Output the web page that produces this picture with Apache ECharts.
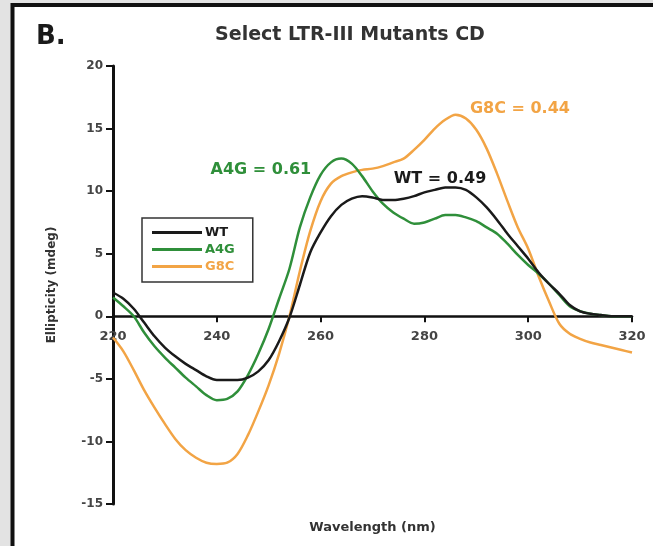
<!DOCTYPE html>
<html>
<head>
<meta charset="utf-8">
<title>Select LTR-III Mutants CD</title>
<script src="https://cdn.jsdelivr.net/npm/echarts@6/dist/echarts.min.js"></script>
<style>
  html, body { margin: 0; padding: 0; background: #e3e3e3; }
  #chart { width: 653px; height: 546px; }
</style>
</head>
<body>
<div id="chart"></div>
<script>
// wavelength (nm)
var wavelength = [220, 222, 224, 226, 228, 230, 232, 234, 236, 238,
                  240, 242, 244, 246, 248, 250, 252, 254, 256, 258,
                  260, 262, 264, 266, 268, 270, 272, 274, 276, 278,
                  280, 282, 284, 286, 288, 290, 292, 294, 296, 298,
                  300, 302, 304, 306, 308, 310, 312, 314, 316, 318, 320];

// ellipticity (mdeg)
var wt = [1.9, 1.4, 0.6, -0.5, -1.6, -2.5, -3.2, -3.8, -4.3, -4.8,
          -5.1, -5.1, -5.1, -4.9, -4.4, -3.5, -2.0, -0.1, 2.5, 5.1,
          6.7, 8.0, 8.9, 9.4, 9.6, 9.5, 9.3, 9.3, 9.4, 9.6,
          9.9, 10.1, 10.3, 10.3, 10.1, 9.5, 8.7, 7.7, 6.6, 5.6,
          4.6, 3.5, 2.6, 1.8, 0.9, 0.4, 0.2, 0.1, 0.0, 0.0, 0.0];

var a4g = [1.5, 0.8, 0.0, -1.3, -2.4, -3.3, -4.1, -4.9, -5.6, -6.3,
           -6.7, -6.6, -6.0, -4.7, -3.0, -1.0, 1.4, 3.8, 7.1, 9.5,
           11.3, 12.3, 12.6, 12.2, 11.2, 10.0, 9.0, 8.3, 7.8, 7.4,
           7.5, 7.8, 8.1, 8.1, 7.9, 7.6, 7.1, 6.6, 5.8, 4.9,
           4.1, 3.4, 2.6, 1.7, 0.8, 0.4, 0.2, 0.1, 0.0, 0.0, 0.0];

var g8c = [-1.7, -2.8, -4.3, -5.9, -7.3, -8.6, -9.8, -10.7, -11.3, -11.7,
           -11.8, -11.7, -11.0, -9.5, -7.6, -5.5, -3.0, 0.0, 3.6, 6.8,
           9.2, 10.6, 11.2, 11.5, 11.7, 11.8, 12.0, 12.3, 12.6, 13.3,
           14.1, 15.0, 15.7, 16.1, 15.8, 14.9, 13.4, 11.4, 9.2, 7.1,
           5.4, 3.2, 1.2, -0.6, -1.4, -1.8, -2.1, -2.3, -2.5, -2.7, -2.9];

var seriesNames = ['WT', 'A4G', 'G8C'];
var seriesColors = ['#1a1a1a', '#2f8f3a', '#f2a445'];

// annotation text and where it sits (wavelength, mdeg)
var noteText = ['WT = 0.49', 'A4G = 0.61', 'G8C = 0.44'];
var noteAt = [[283, 11.0], [248.5, 11.7], [298.4, 16.6]];

var font = 'DejaVu Sans';
var yMin = -15, yMax = 20;
var gridTop = 66, gridBottom = 42;

function pairs(ys) {
    return wavelength.map(function (x, i) { return [x, ys[i]]; });
}

var myChart = echarts.init(document.getElementById('chart'));

// lift the x axis up to y = 0 (onZero only moves the line in v6)
var plotH = 546 - gridTop - gridBottom;
var zeroLift = plotH * (0 - yMin) / (yMax - yMin);

var values = [wt, a4g, g8c];
var series = seriesNames.map(function (name, i) {
    return {
        name: name,
        type: 'line',
        data: pairs(values[i]),
        smooth: 0.3,
        showSymbol: false,
        lineStyle: { color: seriesColors[i], width: 2.5 },
        itemStyle: { color: seriesColors[i] },
        z: 3 - i,
        markPoint: {
            symbol: 'circle',
            symbolSize: 1,
            itemStyle: { color: 'rgba(0,0,0,0)' },
            label: {
                show: true,
                position: 'inside',
                formatter: noteText[i],
                color: seriesColors[i],
                fontFamily: font,
                fontWeight: 'bold',
                fontSize: 16
            },
            data: [{ coord: noteAt[i] }]
        }
    };
});

var option = {
    animation: false,
    backgroundColor: 'transparent',
    title: {
        text: 'Select LTR-III Mutants CD',
        left: 345,
        top: 21,
        textAlign: 'center',
        textStyle: { fontFamily: font, fontWeight: 'bold', fontSize: 19, color: '#333' }
    },
    graphic: [
        {
            type: 'rect',
            z: -10,
            shape: { x: 12.5, y: 5, width: 700, height: 600 },
            style: { fill: '#ffffff', stroke: '#111', lineWidth: 4 }
        },
        {
            type: 'text',
            left: 36,
            top: 24,
            style: { text: 'B.', fontFamily: font, fontWeight: 'bold', fontSize: 26, fill: '#1a1a1a' }
        }
    ],
    legend: {
        orient: 'vertical',
        left: 142,
        top: 218,
        padding: [8, 18, 9, 10],
        itemGap: 4,
        itemWidth: 50,
        itemHeight: 3,
        icon: 'rect',
        borderColor: '#333',
        borderWidth: 1.5,
        data: seriesNames.map(function (n, i) {
            return { name: n, textStyle: { color: seriesColors[i] } };
        }),
        textStyle: { fontFamily: font, fontWeight: 'bold', fontSize: 13, padding: [0, 0, 0, -2] }
    },
    grid: { left: 113, right: 21, top: gridTop, bottom: gridBottom, outerBoundsMode: 'none', containLabel: false },
    xAxis: {
        type: 'value',
        min: 220,
        max: 320,
        interval: 20,
        offset: -zeroLift,
        name: 'Wavelength (nm)',
        nameLocation: 'middle',
        nameGap: 205,
        nameTextStyle: { fontFamily: font, fontWeight: 'bold', fontSize: 13, color: '#333' },
        axisLine: { onZero: false, lineStyle: { color: '#111', width: 2.5 } },
        axisTick: { length: 6, lineStyle: { color: '#111', width: 2 } },
        axisLabel: { margin: 14, fontFamily: font, fontWeight: 'bold', fontSize: 13, color: '#444' },
        splitLine: { show: false }
    },
    yAxis: {
        type: 'value',
        min: yMin,
        max: yMax,
        interval: 5,
        name: 'Ellipticity (mdeg)',
        nameLocation: 'middle',
        nameRotate: 90,
        nameGap: 55,
        nameTextStyle: { fontFamily: font, fontWeight: 'bold', fontSize: 12, color: '#333' },
        axisLine: { show: true, onZero: false, lineStyle: { color: '#111', width: 3 } },
        axisTick: { show: true, length: 7, lineStyle: { color: '#111', width: 2 } },
        axisLabel: { margin: 10, fontFamily: font, fontWeight: 'bold', fontSize: 12, color: '#444' },
        splitLine: { show: false }
    },
    series: series
};

myChart.setOption(option);
</script>
</body>
</html>
